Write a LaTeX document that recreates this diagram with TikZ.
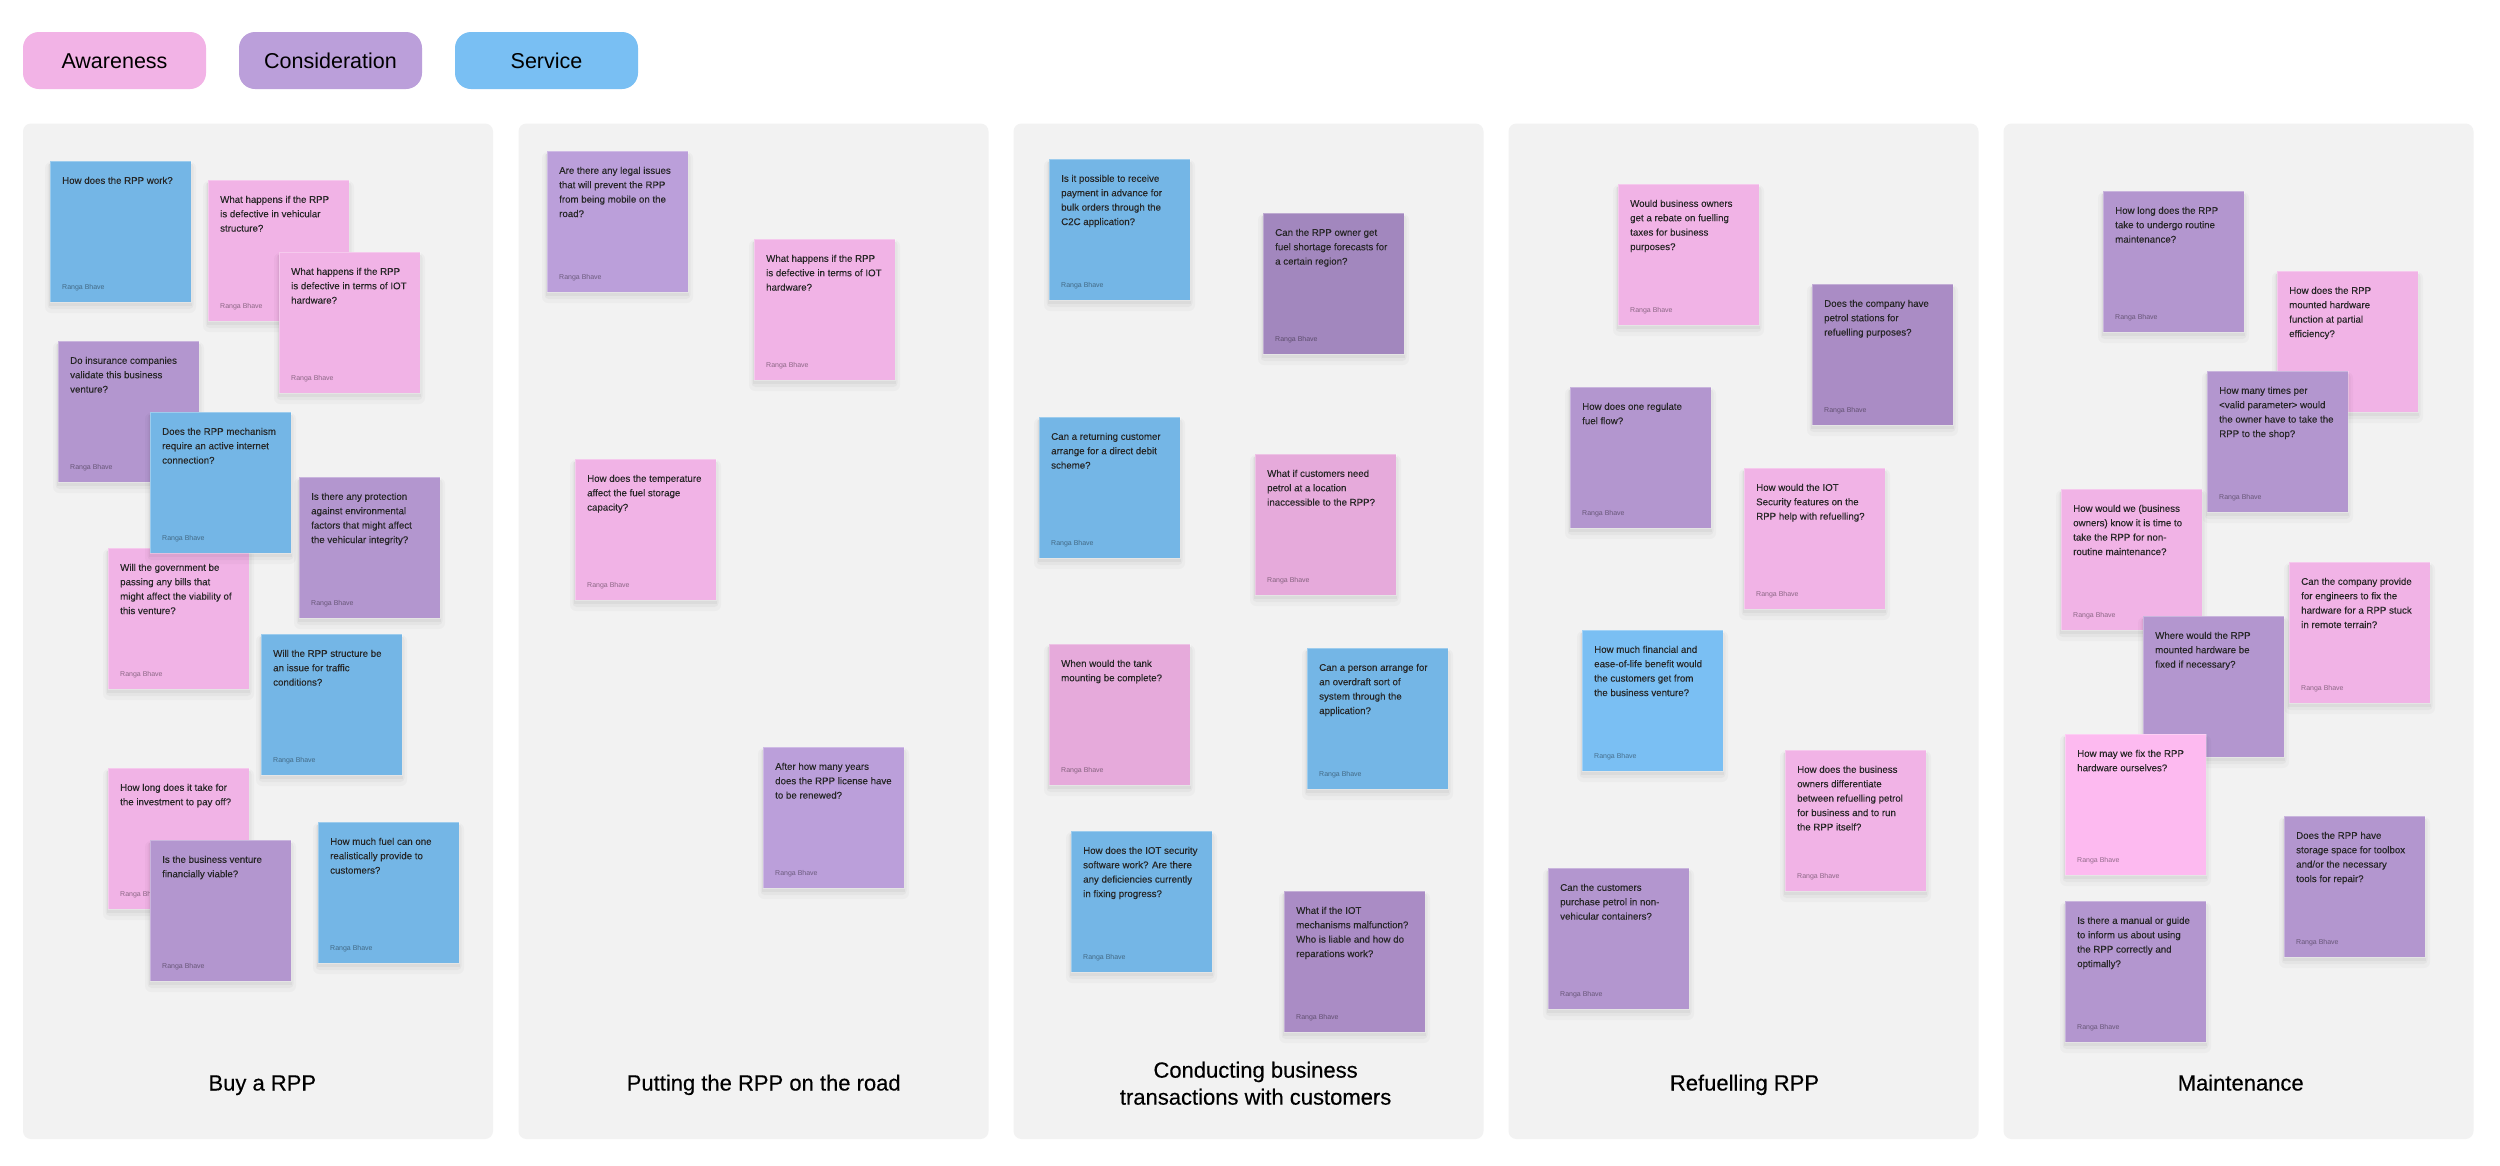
\documentclass[tikz,border=0pt]{standalone}
\usepackage{fontspec}
\setmainfont{Liberation Sans}
\newfontfamily\titlefont[FakeBold=0.35]{Liberation Sans}
\newfontfamily\notefont[FakeBold=0.15]{Liberation Sans}
\definecolor{cP}{HTML}{F1B3E6}
\definecolor{cPm}{HTML}{E6AADB}
\definecolor{cPb}{HTML}{FDBAF0}
\definecolor{cV}{HTML}{B396CF}
\definecolor{cVl}{HTML}{BB9FDA}
\definecolor{cVd}{HTML}{A287BE}
\definecolor{cVm}{HTML}{AA8CC5}
\definecolor{cB}{HTML}{74B6E6}
\definecolor{cBl}{HTML}{7ABFF3}
\definecolor{legP}{HTML}{F2B3E6}
\definecolor{legV}{HTML}{BB9FDA}
\definecolor{legB}{HTML}{79BFF3}
\definecolor{panelgray}{HTML}{F2F2F2}
\tikzset{
  legendbox/.style={rounded corners=16pt, minimum width=183pt, minimum height=57pt, inner sep=0pt, outer sep=0pt, anchor=north west},
  legendtext/.style={font=\fontsize{21.5pt}{26pt}\selectfont, text=black, inner sep=0pt, anchor=base},
  panel/.style={fill=panelgray, rounded corners=8pt, minimum width=470pt, minimum height=1015.5pt, inner sep=0pt, outer sep=0pt, anchor=north west},
  coltitle/.style={font=\titlefont\fontsize{22pt}{27pt}\selectfont, text=black, inner sep=0pt, align=center},
  notebox/.style={minimum width=141pt, minimum height=141pt, inner sep=0pt, outer sep=0pt, anchor=north west, draw=white, draw opacity=0.3, line width=0.8pt},
  notetext/.style={font=\notefont\fontsize{9.7pt}{14.4pt}\selectfont, text=black!85, align=left, inner sep=0pt, anchor=north west},
  noteauthor/.style={font=\fontsize{7pt}{8pt}\selectfont, text=black, text opacity=0.42, inner sep=0pt, anchor=base west},
}
\newcommand\stickynote[5]{%
  \fill[black,opacity=0.022,rounded corners=6pt] (#2-5,#3+1) rectangle (#2+146,#3+152);
  \fill[black,opacity=0.03,rounded corners=4pt] (#2-2.5,#3+2) rectangle (#2+143.5,#3+148);
  \fill[black,opacity=0.035] (#2-1,#3+3) rectangle (#2+142,#3+144.5);
  \node[notebox, fill=#4] (#1) at (#2,#3) {};
  \node[notetext] (#1t) at ([xshift=12pt,yshift=-15.6pt]#1.north west) {#5};
  \node[noteauthor] (#1a) at ([xshift=12pt,yshift=-128pt]#1.north west) {Ranga Bhave};
}
\begin{document}
\begin{tikzpicture}[x=1pt,y=-1pt]
\useasboundingbox[fill=white] (0,0) rectangle (2500,1165);
% legend
\node[legendbox, fill=legP] (lg1) at (23,32) {};
\node[legendtext] (lg1t) at (114.5,68.5) {Awareness};
\node[legendbox, fill=legV] (lg2) at (239,32) {};
\node[legendtext] (lg2t) at (330.5,68.5) {Consideration};
\node[legendbox, fill=legB] (lg3) at (455,32) {};
\node[legendtext] (lg3t) at (546.5,68.5) {Service};
% panels
\node[panel] (p1) at (23,123.5) {};
\node[panel] (p2) at (518.5,123.5) {};
\node[panel] (p3) at (1013.5,123.5) {};
\node[panel] (p4) at (1508.5,123.5) {};
\node[panel] (p5) at (2003.5,123.5) {};
% column 1
\stickynote{a1}{50}{161}{cB}{How does the RPP work?}
\stickynote{a2}{208}{180}{cP}{What happens if the RPP\\is defective in vehicular\\structure?}
\stickynote{a3}{279}{252}{cP}{What happens if the RPP\\is defective in terms of IOT\\hardware?}
\stickynote{a4}{58}{341}{cV}{Do insurance companies\\validate this business\\venture?}
\stickynote{a7}{108}{548}{cP}{Will the government be\\passing any bills that\\might affect the viability of\\this venture?}
\stickynote{a5}{150}{412}{cB}{Does the RPP mechanism\\require an active internet\\connection?}
\stickynote{a6}{299}{477}{cV}{Is there any protection\\against environmental\\factors that might affect\\the vehicular integrity?}
\stickynote{a8}{261}{634}{cB}{Will the RPP structure be\\an issue for traffic\\conditions?}
\stickynote{a9}{108}{768}{cP}{How long does it take for\\the investment to pay off?}
\stickynote{a10}{150}{840}{cV}{Is the business venture\\financially viable?}
\stickynote{a11}{318}{822}{cB}{How much fuel can one\\realistically provide to\\customers?}
% column 2
\stickynote{b1}{547}{151}{cVl}{Are there any legal issues\\that will prevent the RPP\\from being mobile on the\\road?}
\stickynote{b2}{754}{239}{cP}{What happens if the RPP\\is defective in terms of IOT\\hardware?}
\stickynote{b3}{575}{459}{cP}{How does the temperature\\affect the fuel storage\\capacity?}
\stickynote{b4}{763}{747}{cVl}{After how many years\\does the RPP license have\\to be renewed?}
% column 3
\stickynote{c1}{1049}{159}{cB}{Is it possible to receive\\payment in advance for\\bulk orders through the\\C2C application?}
\stickynote{c2}{1263}{213}{cVd}{Can the RPP owner get\\fuel shortage forecasts for\\a certain region?}
\stickynote{c3}{1039}{417}{cB}{Can a returning customer\\arrange for a direct debit\\scheme?}
\stickynote{c4}{1255}{454}{cPm}{What if customers need\\petrol at a location\\inaccessible to the RPP?}
\stickynote{c5}{1049}{644}{cPm}{When would the tank\\mounting be complete?}
\stickynote{c6}{1307}{648}{cB}{Can a person arrange for\\an overdraft sort of\\system through the\\application?}
\stickynote{c7}{1071}{831}{cB}{How does the IOT security\\software work? Are there\\any deficiencies currently\\in fixing progress?}
\stickynote{c8}{1284}{891}{cVm}{What if the IOT\\mechanisms malfunction?\\Who is liable and how do\\reparations work?}
% column 4
\stickynote{d1}{1618}{184}{cP}{Would business owners\\get a rebate on fuelling\\taxes for business\\purposes?}
\stickynote{d2}{1812}{284}{cVm}{Does the company have\\petrol stations for\\refuelling purposes?}
\stickynote{d3}{1570}{387}{cV}{How does one regulate\\fuel flow?}
\stickynote{d4}{1744}{468}{cP}{How would the IOT\\Security features on the\\RPP help with refuelling?}
\stickynote{d5}{1582}{630}{cBl}{How much financial and\\ease-of-life benefit would\\the customers get from\\the business venture?}
\stickynote{d6}{1785}{750}{cP}{How does the business\\owners differentiate\\between refuelling petrol\\for business and to run\\the RPP itself?}
\stickynote{d7}{1548}{868}{cV}{Can the customers\\purchase petrol in non-\\vehicular containers?}
% column 5
\stickynote{e1}{2103}{191}{cV}{How long does the RPP\\take to undergo routine\\maintenance?}
\stickynote{e2}{2277}{271}{cP}{How does the RPP\\mounted hardware\\function at partial\\efficiency?}
\stickynote{e3}{2207}{371}{cV}{How many times per\\\textless valid parameter\textgreater\ would\\the owner have to take the\\RPP to the shop?}
\stickynote{e4}{2061}{489}{cP}{How would we (business\\owners) know it is time to\\take the RPP for non-\\routine maintenance?}
\stickynote{e5}{2289}{562}{cP}{Can the company provide\\for engineers to fix the\\hardware for a RPP stuck\\in remote terrain?}
\stickynote{e6}{2143}{616}{cV}{Where would the RPP\\mounted hardware be\\fixed if necessary?}
\stickynote{e7}{2065}{734}{cPb}{How may we fix the RPP\\hardware ourselves?}
\stickynote{e8}{2284}{816}{cV}{Does the RPP have\\storage space for toolbox\\and/or the necessary\\tools for repair?}
\stickynote{e9}{2065}{901}{cV}{Is there a manual or guide\\to inform us about using\\the RPP correctly and\\optimally?}
% titles
\node[coltitle, anchor=base] (t1) at (262.3,1090.5) {Buy a RPP};
\node[coltitle, anchor=base] (t2) at (763.7,1090.5) {Putting the RPP on the road};
\node[coltitle, anchor=north] (t3) at (1255.6,1061.5) {Conducting business\\transactions with customers};
\node[coltitle, anchor=base] (t4) at (1744.5,1090.5) {Refuelling RPP};
\node[coltitle, anchor=base] (t5) at (2240.7,1090.5) {Maintenance};
\end{tikzpicture}
\end{document}
